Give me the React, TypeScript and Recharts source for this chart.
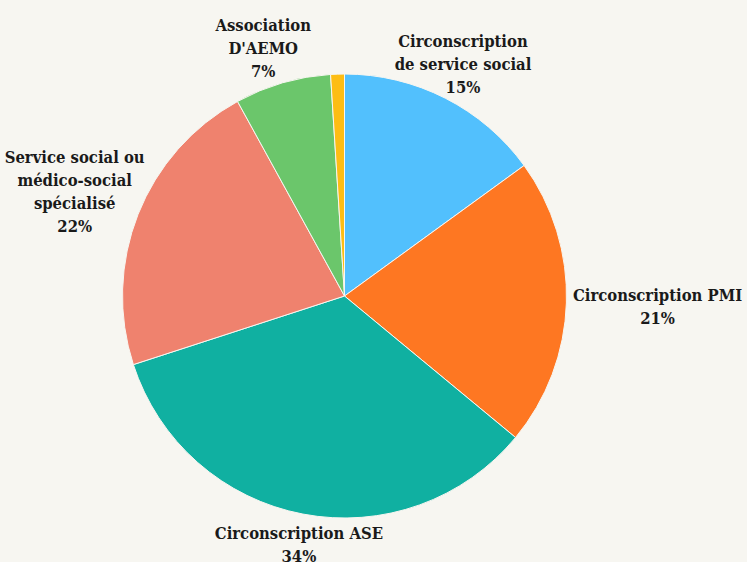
import { PieChart, Pie, Cell } from 'recharts'

const categories = [
  'Circonscription de service social',
  'Circonscription PMI',
  'Circonscription ASE',
  'Service social ou médico-social spécialisé',
  "Association D'AEMO",
  'Autre',
]
const shares = [15, 21, 34, 22, 7, 1]
const labelLines = [
  ['Circonscription', 'de service social'],
  ['Circonscription PMI'],
  ['Circonscription ASE'],
  ['Service social ou', 'médico-social', 'spécialisé'],
  ['Association', "D'AEMO"],
  [],
]
const colors = ['#52c0fd', '#fe7722', '#10b0a1', '#ef826e', '#6bc66b', '#fdbd14']

const BG = '#f7f6f1'
const FONT = '"DejaVu Serif Condensed", "DejaVu Serif", serif'
const LINE_H = 23
const CHAR_W = 8.55
// small hand nudges so labels sit where the original placed them
const nudgeX = [0, 4, 0, 5, -14, 0]
const nudgeY = [2, 3, 2, -3, 5, 0]

const data = categories.map((name, i) => ({ name, value: shares[i] }))

const RADIAN = Math.PI / 180

function SliceLabel(props: any) {
  const { cx, cy, midAngle, outerRadius, index, value } = props
  const lines = labelLines[index]
  if (!lines || lines.length === 0) return null
  const all = [...lines, `${value}%`]
  const w = Math.max(...all.map((l) => l.length)) * CHAR_W
  const h = all.length * LINE_H
  const cos = Math.cos(-midAngle * RADIAN)
  const sin = Math.sin(-midAngle * RADIAN)
  const r = outerRadius + 6
  const x = cx + r * cos + (w / 2) * cos * Math.abs(cos) + nudgeX[index]
  const y = cy + r * sin + (h / 2) * sin + nudgeY[index]
  const top = y - ((all.length - 1) * LINE_H) / 2
  return (
    <text
      x={x}
      y={top}
      textAnchor="middle"
      fontFamily={FONT}
      fontStretch="condensed"
      fontWeight="bold"
      fontSize={16.5}
      fill="#1a1a1a"
    >
      {all.map((l, i) => (
        <tspan key={i} x={x} y={top + i * LINE_H} dominantBaseline="central">
          {l}
        </tspan>
      ))}
    </text>
  )
}

export default function App() {
  return (
    <div style={{ width: 747, height: 562, background: BG }}>
      <style>{'body{margin:0}'}</style>
      <PieChart width={747} height={562} margin={{ top: 0, right: 0, bottom: 0, left: 0 }}>
        <Pie
          data={data}
          dataKey="value"
          nameKey="name"
          cx={344.5}
          cy={296}
          outerRadius={222}
          startAngle={90}
          endAngle={-270}
          stroke={BG}
          strokeWidth={1}
          label={SliceLabel}
          labelLine={false}
          isAnimationActive={false}
        >
          {data.map((d, i) => (
            <Cell key={d.name} fill={colors[i]} />
          ))}
        </Pie>
      </PieChart>
    </div>
  )
}
